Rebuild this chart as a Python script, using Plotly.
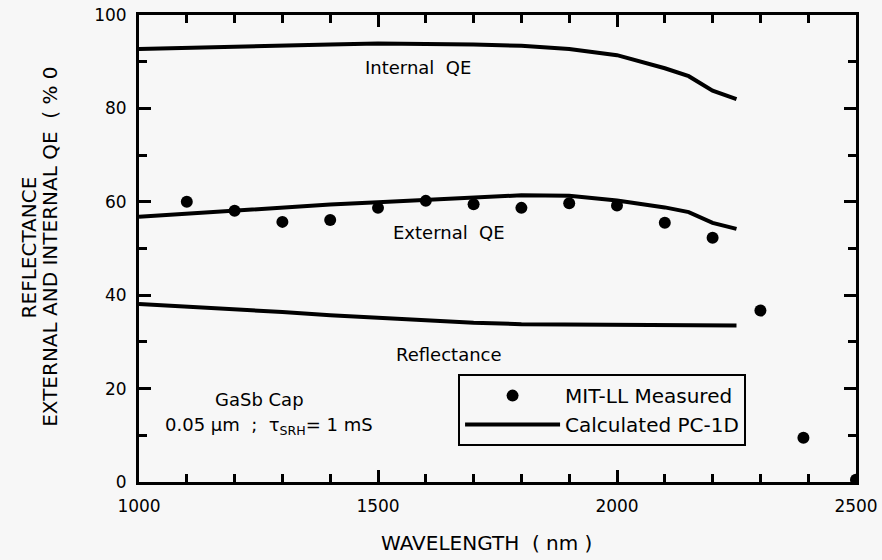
import plotly.graph_objects as go

# calculated curves (PC-1D)
wl_calc = [1000, 1100, 1200, 1300, 1400, 1500, 1600, 1700, 1800, 1900, 2000, 2100, 2150, 2200, 2250]
internal_qe = [92.7, 93.0, 93.2, 93.5, 93.7, 93.9, 93.9, 93.7, 93.4, 92.7, 91.4, 88.6, 86.9, 83.8, 82.0]
external_qe = [56.8, 57.5, 58.2, 58.8, 59.4, 59.9, 60.4, 61.0, 61.4, 61.3, 60.3, 58.8, 57.8, 55.5, 54.2]
reflectance = [38.1, 37.6, 37.0, 36.4, 35.7, 35.1, 34.6, 34.1, 33.8, 33.7, 33.6, 33.5, 33.5, 33.5, 33.5]

# measured points (MIT-LL)
wl_meas = [1100, 1200, 1300, 1400, 1500, 1600, 1700, 1800, 1900, 2000, 2100, 2200, 2300, 2390, 2500]
meas = [60.0, 58.1, 55.7, 56.1, 58.7, 60.2, 59.5, 58.7, 59.7, 59.2, 55.5, 52.3, 36.7, 9.5, 0.5]

FONT = "DejaVu Sans"
BG = "#f7f7f7"

fig = go.Figure()

for i, ys in enumerate([internal_qe, external_qe, reflectance]):
    fig.add_trace(go.Scatter(
        x=wl_calc, y=ys, mode="lines",
        line=dict(color="black", width=4),
        name="Calculated PC-1D",
        showlegend=(i == 0),
        legendrank=2,
    ))

fig.add_trace(go.Scatter(
    x=wl_meas, y=meas, mode="markers",
    marker=dict(color="black", size=12),
    name="MIT-LL Measured",
    legendrank=1,
))

labels = [
    (1583, 88.7, "Internal  QE"),
    (1649, 53.4, "External  QE"),
    (1649, 27.4, "Reflectance"),
    (1252, 17.6, "GaSb Cap"),
    (1273, 12.0, "0.05 \u03bcm  ;  \u03c4<sub>SRH</sub>= 1 mS"),
]
for x, y, t in labels:
    fig.add_annotation(x=x, y=y, text=t, showarrow=False,
                       font=dict(family=FONT, size=18, color="black"))

# axis titles
fig.add_annotation(x=0.485, y=-0.131, xref="paper", yref="paper",
                   xanchor="center", yanchor="middle",
                   text="WAVELENGTH  ( nm )", showarrow=False,
                   font=dict(family=FONT, size=20, color="black"))
fig.add_annotation(x=-0.153, y=0.503, xref="paper", yref="paper", textangle=-90,
                   xanchor="center", yanchor="middle",
                   text="REFLECTANCE", showarrow=False,
                   font=dict(family=FONT, size=20, color="black"))
fig.add_annotation(x=-0.1245, y=0.503, xref="paper", yref="paper", textangle=-90,
                   xanchor="center", yanchor="middle",
                   text="EXTERNAL AND INTERNAL QE  ( % 0", showarrow=False,
                   font=dict(family=FONT, size=20, color="black"))

axis_common = dict(
    showline=True, linecolor="black", linewidth=3, mirror="allticks",
    ticks="inside", tickcolor="black", tickwidth=3, ticklen=12,
    showgrid=False, zeroline=False, automargin=False,
    tickfont=dict(family=FONT, size=17, color="black"),
)

fig.update_xaxes(
    range=[1000, 2500], tickvals=[1000, 1500, 2000, 2500],
    minor=dict(dtick=100, ticks="inside", ticklen=8, tickwidth=3, tickcolor="black"),
    ticklabelstandoff=7,
    **axis_common,
)
fig.update_yaxes(
    range=[0, 100], dtick=20,
    minor=dict(dtick=10, ticks="inside", ticklen=8, tickwidth=3, tickcolor="black"),
    ticklabelstandoff=6,
    **axis_common,
)

fig.update_layout(
    width=882, height=560,
    margin=dict(l=139, r=26, t=15, b=78),
    paper_bgcolor=BG, plot_bgcolor=BG,
    font=dict(family=FONT, color="black"),
    legend=dict(
        x=0.445, y=0.231, xanchor="left", yanchor="top",
        bgcolor=BG, bordercolor="black", borderwidth=2,
        font=dict(family=FONT, size=20, color="black"),
        tracegroupgap=0, itemwidth=95,
    ),
)

fig.write_html(
    "out.html",
    config={"displayModeBar": False},
    post_script="document.body.style.margin='0';document.body.style.background='#f7f7f7';",
)
